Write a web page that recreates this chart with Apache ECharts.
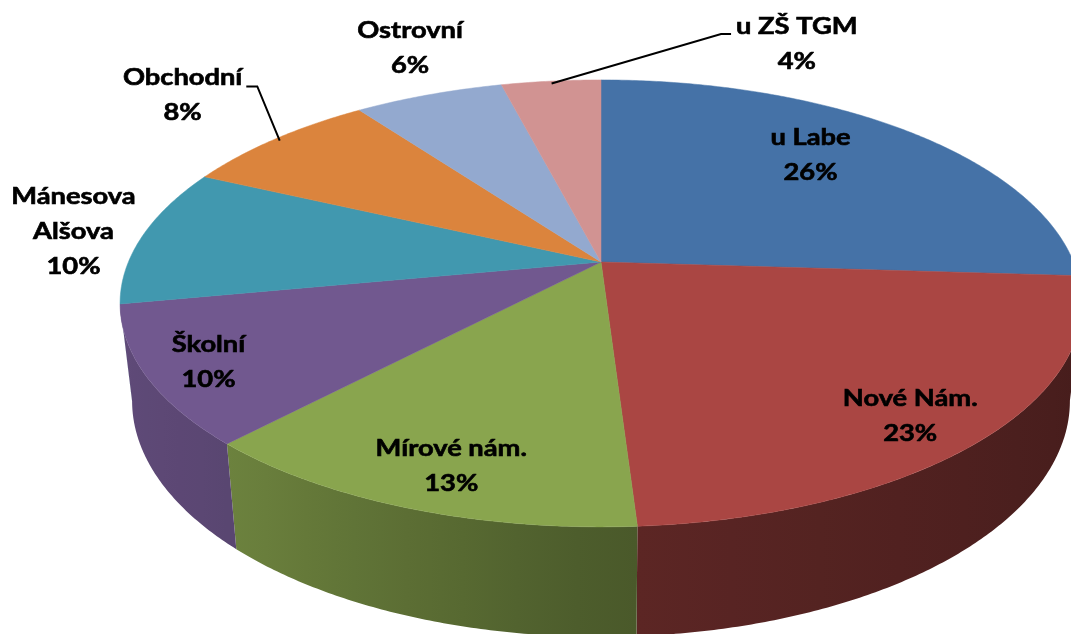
<!DOCTYPE html>
<html><head><meta charset="utf-8">
<script src="https://cdn.jsdelivr.net/npm/echarts@6/dist/echarts.min.js"></script>
<style>html,body{margin:0;padding:0;background:#fff;overflow:hidden}#c{width:1071px;height:634px}</style>
</head><body><div id="c"></div>
<script>
// ---- data ----
const categories = ['u Labe', 'Nové Nám.', 'Mírové nám.', 'Školní', 'Mánesova\nAlšova', 'Obchodní', 'Ostrovní', 'u ZŠ TGM'];
const values = [26, 23, 13, 10, 10, 8, 6, 4];

// ---- style / layout ----
const colors = ['#4572A7', '#AA4643', '#89A54E', '#71588F', '#4198AF', '#DB843D', '#93A9CF', '#D19392'];
// label placement: [radius factor along mid angle, dx, dy, leader]
const labelLayout = [
  [0.70, -12, -12, false],
  [0.83, -2, 12, false],
  [0.85, 10, 2, false],
  [0.88, 3, 1, false],
  [1.18, 11, 1, false],
  [1.30, -8, -12, 'right'],
  [1.25, 17, -12, false],
  [1.20, 254, -7, 'left']
];
const G = { cx: 601, cy: 262, rx: 472.6, a: 215.8, k: 0.1853, h: 95, g: 0.975 };
const FONT = 'bold 22px Lato';
const TEXT_SCALE_X = 1.24;

const total = values.reduce((s, v) => s + v, 0);
const starts = [];
values.reduce((acc, v, i) => { starts[i] = acc; return acc + v; }, 0);

function proj(theta, f, bottom) {
  const c = Math.sin(theta) * f, s = -Math.cos(theta) * f;
  const d = 1 - G.k * s;
  const xt = G.rx * c / d, yt = G.a * s / d;
  if (bottom) return [G.cx + G.g * xt, G.cy + G.g * yt + G.h / d];
  return [G.cx + xt, G.cy + yt];
}
function shade(hex, f) {
  const n = parseInt(hex.slice(1), 16);
  const r = Math.round(((n >> 16) & 255) * f), g = Math.round(((n >> 8) & 255) * f), b = Math.round((n & 255) * f);
  return 'rgb(' + r + ',' + g + ',' + b + ')';
}
function wallFactor(c) {
  const pts = [[-1, 0.85], [-0.68, 0.79], [0, 0.55], [1, 0.41]];
  for (let i = 0; i < pts.length - 1; i++) {
    if (c <= pts[i + 1][0]) {
      const t = (c - pts[i][0]) / (pts[i + 1][0] - pts[i][0]);
      return pts[i][1] + t * (pts[i + 1][1] - pts[i][1]);
    }
  }
  return pts[pts.length - 1][1];
}
const measureCtx = document.createElement('canvas').getContext('2d');
function textWidth(t) {
  measureCtx.font = FONT;
  return Math.max.apply(null, t.split('\n').map(l => measureCtx.measureText(l).width)) * TEXT_SCALE_X;
}

const visA = Math.acos(-G.k), visB = 2 * Math.PI - Math.acos(-G.k);

function renderItem(params, api) {
  const i = params.dataIndex;
  const v = api.value(0);
  const t0 = starts[i] / total * 2 * Math.PI;
  const t1 = (starts[i] + v) / total * 2 * Math.PI;
  const children = [];
  const step = Math.PI / 360;
  // side wall
  const w0 = Math.max(t0, visA), w1 = Math.min(t1, visB);
  if (w1 > w0) {
    const top = [], bot = [], samples = [];
    const n = Math.max(2, Math.ceil((w1 - w0) / step));
    for (let j = 0; j <= n; j++) {
      const th = w0 + (w1 - w0) * j / n;
      top.push(proj(th, 1, false));
      bot.push(proj(th, 1, true));
      samples.push(Math.sin(th));
    }
    const pts = top.concat(bot.slice().reverse());
    const xa = top[0][0], xb = top[top.length - 1][0];
    const stops = [];
    const m = 8;
    for (let j = 0; j <= m; j++) {
      const idx = Math.round(j / m * n);
      let off = (top[idx][0] - xa) / ((xb - xa) || 1);
      off = Math.min(1, Math.max(0, off));
      stops.push({ offset: off, color: shade(colors[i], wallFactor(samples[idx])) });
    }
    stops.sort((p, q) => p.offset - q.offset);
    children.push({
      type: 'polygon', z2: 1,
      shape: { points: pts },
      style: { fill: { type: 'linear', x: xa, y: 0, x2: xb, y2: 0, global: true, colorStops: stops }, stroke: null }
    });
  }
  // top face
  const face = [[G.cx, G.cy]];
  const nf = Math.max(2, Math.ceil((t1 - t0) / step));
  for (let j = 0; j <= nf; j++) face.push(proj(t0 + (t1 - t0) * j / nf, 1, false));
  children.push({ type: 'polygon', z2: 10, shape: { points: face }, style: { fill: colors[i], stroke: colors[i], lineWidth: 0.5 } });
  // label
  const L = labelLayout[i];
  const mid = (t0 + t1) / 2;
  const p = proj(mid, L[0], false);
  const lx = p[0] + L[1], ly = p[1] + L[2];
  const txt = categories[i] + '\n' + Math.round(v / total * 100) + '%';
  children.push({
    type: 'text', z2: 30, x: lx, y: ly, scaleX: TEXT_SCALE_X,
    style: { text: txt, font: FONT, fill: '#000', stroke: '#000', lineWidth: 0.6, align: 'center', verticalAlign: 'middle', lineHeight: 35 }
  });
  if (L[3]) {
    const e = proj(mid, 0.985, false);
    const wdt = textWidth(categories[i]);
    const nLines = txt.split('\n').length;
    const firstY = ly - (nLines - 1) * 35 / 2;
    let pts;
    if (L[3] === 'left') {
      const xe = lx - wdt / 2 - 5;
      pts = [e, [xe - 10, firstY + 7], [xe, firstY + 7]];
    } else {
      const xe = lx + wdt / 2 + 4;
      pts = [[xe, firstY + 9], [xe + 11, firstY + 9], e];
    }
    children.push({ type: 'polyline', z2: 25, shape: { points: pts }, style: { stroke: '#000', lineWidth: 2, fill: null } });
  }
  return { type: 'group', children: children };
}

const chart = echarts.init(document.getElementById('c'), null, { renderer: 'canvas' });
chart.setOption({
  backgroundColor: '#fff',
  animation: false,
  series: [{
    type: 'custom',
    coordinateSystem: 'none',
    silent: true,
    data: values.map((v, i) => ({ name: categories[i], value: [v, i] })),
    renderItem: renderItem
  }]
});
</script></body></html>
